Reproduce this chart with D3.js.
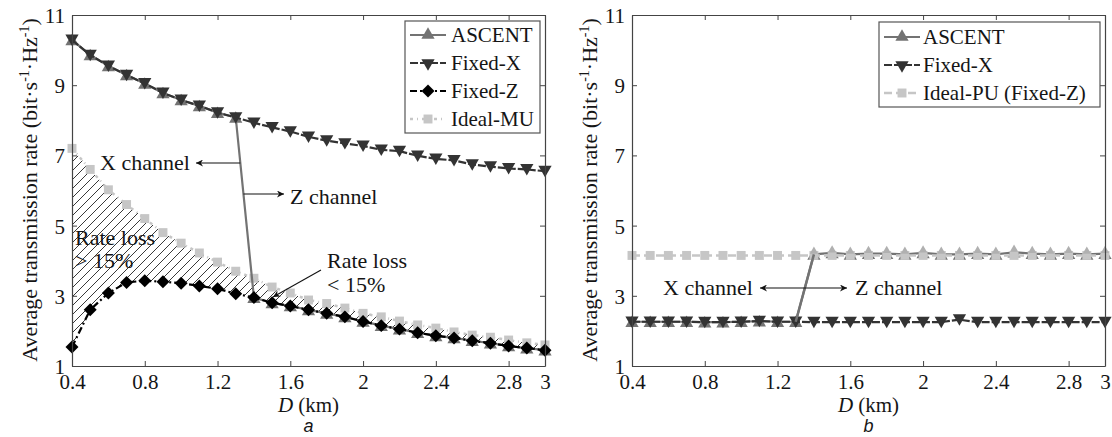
<!DOCTYPE html>
<html>
<head>
<meta charset="utf-8">
<script src="https://cdn.jsdelivr.net/npm/d3@7"></script>
<style>
  body { margin: 0; background: #fff; }
  text { font-family: "Liberation Serif", "Times New Roman", serif; fill: #151515; }
</style>
</head>
<body>
<div id="chart"></div>
<script>
// distances (km)
var D = [0.4, 0.5, 0.6, 0.7, 0.8, 0.9, 1.0, 1.1, 1.2, 1.3, 1.4, 1.5, 1.6, 1.7, 1.8,
         1.9, 2.0, 2.1, 2.2, 2.3, 2.4, 2.5, 2.6, 2.7, 2.8, 2.9, 3.0];

// panel a
var aFixedX  = [10.29, 9.86, 9.55, 9.29, 9.05, 8.78, 8.58, 8.41, 8.22, 8.08, 7.93, 7.80, 7.68, 7.53,
                7.42, 7.34, 7.27, 7.16, 7.12, 6.99, 6.90, 6.86, 6.74, 6.68, 6.63, 6.60, 6.55];
var aFixedZ  = [1.54, 2.60, 3.08, 3.38, 3.43, 3.40, 3.36, 3.28, 3.20, 3.06, 2.95, 2.80, 2.71, 2.60,
                2.50, 2.40, 2.27, 2.15, 2.05, 1.95, 1.86, 1.80, 1.72, 1.65, 1.57, 1.51, 1.45];
var aIdealMU = [7.20, 6.60, 6.02, 5.60, 5.20, 4.80, 4.50, 4.22, 3.96, 3.70, 3.50, 3.25, 3.08, 2.88,
                2.78, 2.65, 2.50, 2.40, 2.28, 2.17, 2.08, 1.97, 1.88, 1.82, 1.74, 1.66, 1.60];
var aAscent  = [10.29, 9.86, 9.55, 9.29, 9.05, 8.78, 8.58, 8.41, 8.22, 8.08, 2.95, 2.80, 2.71, 2.60,
                2.50, 2.40, 2.27, 2.15, 2.05, 1.95, 1.86, 1.80, 1.72, 1.65, 1.57, 1.51, 1.45];

// panel b
var bFixedX  = [2.26, 2.26, 2.26, 2.26, 2.25, 2.25, 2.26, 2.28, 2.26, 2.26, 2.25, 2.25, 2.25, 2.25,
                2.25, 2.25, 2.25, 2.25, 2.32, 2.25, 2.25, 2.25, 2.25, 2.25, 2.25, 2.25, 2.25];
var bIdealPU = [4.15, 4.15, 4.15, 4.15, 4.15, 4.15, 4.15, 4.15, 4.15, 4.15, 4.15, 4.15, 4.15, 4.15,
                4.15, 4.15, 4.15, 4.15, 4.15, 4.15, 4.15, 4.15, 4.15, 4.15, 4.15, 4.15, 4.15];
var bAscent  = [2.26, 2.26, 2.26, 2.26, 2.25, 2.25, 2.26, 2.28, 2.26, 2.26, 4.18, 4.22, 4.18, 4.20,
                4.20, 4.18, 4.22, 4.18, 4.18, 4.20, 4.18, 4.24, 4.20, 4.18, 4.20, 4.18, 4.20];

var xTicks = [0.4, 0.8, 1.2, 1.6, 2, 2.4, 2.8, 3];
var yTicks = [1, 3, 5, 7, 9, 11];

var W = 1112, H = 437;
var top_ = 15, bottom_ = 366, plotW = 473;

var svg = d3.select("#chart").append("svg")
    .attr("width", W).attr("height", H);

var defs = svg.append("defs");
// hatch
var pat = defs.append("pattern")
    .attr("id", "hatch")
    .attr("patternUnits", "userSpaceOnUse")
    .attr("width", 9).attr("height", 9);
pat.append("path")
    .attr("d", "M-2,2 L2,-2 M0,9 L9,0 M7,11 L11,7")
    .attr("stroke", "#222").attr("stroke-width", 0.9);
// arrow head
defs.append("marker")
    .attr("id", "arr")
    .attr("viewBox", "0 0 10 10")
    .attr("refX", 10).attr("refY", 5)
    .attr("markerWidth", 10).attr("markerHeight", 7)
    .attr("markerUnits", "userSpaceOnUse")
    .attr("orient", "auto")
    .append("path").attr("d", "M0,0 L10,5 L0,10 L3,5 Z").attr("fill", "#111");

var y = d3.scaleLinear().domain([1, 11]).range([bottom_, top_]);

var styles = {
    ascent: {color: "#737373", dash: null, sym: "tri", w: 2.2},
    fixedX: {color: "#333333", dash: "8,2", sym: "triDown", w: 2.2},
    fixedZ: {color: "#000000", dash: "7,3,2,3", sym: "diamond", w: 2.2},
    idealMU: {color: "#c6c6c6", dash: "3,4,1,4", sym: "square", w: 2.5},
    idealPU: {color: "#c6c6c6", dash: "8,4", sym: "square", w: 2.5}
};

function symbolPath(sym) {
    if (sym == "tri" || sym == "triDown") return d3.symbol().type(d3.symbolTriangle).size(76)();
    if (sym == "diamond") return d3.symbol().type(d3.symbolSquare).size(84)();
    return d3.symbol().type(d3.symbolSquare).size(80)();
}
function symbolRot(sym) {
    if (sym == "triDown") return " rotate(180)";
    if (sym == "diamond") return " rotate(45)";
    return "";
}

function drawSeries(g, x, vals, st) {
    var line = d3.line().x(function(d, i) { return x(D[i]); }).y(function(d) { return y(d); });
    g.append("path")
        .datum(vals)
        .attr("d", line)
        .attr("fill", "none")
        .attr("stroke", st.color)
        .attr("stroke-width", st.w)
        .attr("stroke-dasharray", st.dash);
    g.selectAll(null)
        .data(vals)
        .enter().append("path")
        .attr("d", symbolPath(st.sym))
        .attr("transform", function(d, i) { return "translate(" + x(D[i]) + "," + (y(d) + (st.sym == "tri" ? 1.5 : st.sym == "triDown" ? -1.5 : 0)) + ")" + symbolRot(st.sym); })
        .attr("fill", st.color);
}

function drawAxes(g, x, left) {
    var xAxis = d3.axisBottom(x).tickValues(xTicks).tickSize(-5).tickSizeOuter(0).tickPadding(8)
        .tickFormat(function(d) { return String(+d.toFixed(1)); });
    g.append("g").attr("transform", "translate(0," + bottom_ + ")").call(xAxis);
    g.append("g").attr("transform", "translate(0," + top_ + ")")
        .call(d3.axisTop(x).tickValues(xTicks).tickSize(-5).tickSizeOuter(0).tickFormat(""));
    var gy = g.append("g").attr("transform", "translate(" + left + ",0)")
        .call(d3.axisLeft(y).tickValues(yTicks).tickSize(-5).tickSizeOuter(0).tickPadding(7));
    g.append("g").attr("transform", "translate(" + (left + plotW) + ",0)")
        .call(d3.axisRight(y).tickValues(yTicks).tickSize(-5).tickSizeOuter(0).tickFormat(""));
    g.selectAll(".domain").attr("stroke", "#444").attr("stroke-width", 1.2);
    g.selectAll(".tick line").attr("stroke", "#444");
    g.selectAll(".tick text")
        .style("font-family", "Liberation Serif, serif")
        .style("font-size", "21px")
        .attr("fill", "#151515");
    gy.selectAll(".tick text").attr("dy", "0.36em");

    // y label
    var yl = g.append("text")
        .attr("transform", "translate(" + (left - 35) + "," + 190 + ") rotate(-90)")
        .attr("text-anchor", "middle")
        .style("font-size", "22px");
    yl.append("tspan").text("Average transmission rate (bit·s");
    yl.append("tspan").attr("dy", -8).style("font-size", "14px").text("-1");
    yl.append("tspan").attr("dy", 8).text("·Hz");
    yl.append("tspan").attr("dy", -8).style("font-size", "14px").text("-1");
    yl.append("tspan").attr("dy", 8).text(")");

    // x label
    var xl = g.append("text")
        .attr("x", left + plotW / 2).attr("y", 412)
        .attr("text-anchor", "middle")
        .style("font-size", "21px");
    xl.append("tspan").style("font-style", "italic").text("D");
    xl.append("tspan").text(" (km)");
}

function legend(g, x0, y0, w, h, items, textX) {
    g.append("rect")
        .attr("x", x0).attr("y", y0).attr("width", w).attr("height", h)
        .attr("fill", "#fff").attr("stroke", "#555").attr("stroke-width", 1.2);
    items.forEach(function(it) {
        var st = styles[it.key];
        g.append("line")
            .attr("x1", x0 + 5).attr("x2", x0 + 41)
            .attr("y1", it.y).attr("y2", it.y)
            .attr("stroke", st.color).attr("stroke-width", st.w)
            .attr("stroke-dasharray", st.dash);
        g.append("path")
            .attr("d", symbolPath(st.sym))
            .attr("transform", "translate(" + (x0 + 23) + "," + it.y + ")" + symbolRot(st.sym))
            .attr("fill", st.color);
        g.append("text")
            .attr("x", textX).attr("y", it.y + 7)
            .style("font-size", "21px")
            .text(it.label);
    });
}

function arrow(g, x1, y1, x2, y2) {
    g.append("line")
        .attr("x1", x1).attr("y1", y1).attr("x2", x2).attr("y2", y2)
        .attr("stroke", "#111").attr("stroke-width", 1.1)
        .attr("marker-end", "url(#arr)");
}

function note(g, x, yy, txt) {
    g.append("text").attr("x", x).attr("y", yy).style("font-size", "22px").text(txt);
}

// ---------- panel a ----------
var xa = d3.scaleLinear().domain([0.4, 3]).range([72, 72 + plotW]);
var ga = svg.append("g");

var area = d3.area()
    .x(function(d, i) { return xa(D[i]); })
    .y0(function(d, i) { return y(aFixedZ[i]); })
    .y1(function(d) { return y(d); });
ga.append("path").datum(aIdealMU).attr("d", area).attr("fill", "url(#hatch)");

drawSeries(ga, xa, aIdealMU, styles.idealMU);
drawSeries(ga, xa, aAscent, styles.ascent);
drawSeries(ga, xa, aFixedX, styles.fixedX);
drawSeries(ga, xa, aFixedZ, styles.fixedZ);
drawAxes(ga, xa, 72);

// switching point annotation a
var ax1 = xa(1.3), ay1 = y(aAscent[9]), ax2 = xa(1.4), ay2 = y(aAscent[10]);
function onJumpA(yy) { return ax1 + (ax2 - ax1) * (yy - ay1) / (ay2 - ay1); }
arrow(ga, onJumpA(163), 163, 196, 163);
arrow(ga, onJumpA(194), 194, 284, 194);
note(ga, 100, 170, "X channel");
note(ga, 290, 204, "Z channel");
note(ga, 327, 268, "Rate loss");
note(ga, 327, 292, "< 15%");
arrow(ga, 321, 270, 273, 297);
note(ga, 75, 245, "Rate loss");
note(ga, 75, 268, "> 15%");

legend(ga, 405, 21, 135, 112, [
    {key: "ascent", label: "ASCENT", y: 35},
    {key: "fixedX", label: "Fixed-X", y: 63},
    {key: "fixedZ", label: "Fixed-Z", y: 91},
    {key: "idealMU", label: "Ideal-MU", y: 119}
], 451);

ga.append("text").attr("x", 72 + plotW / 2).attr("y", 432).attr("text-anchor", "middle")
    .style("font-family", "Liberation Sans, Arial, sans-serif").style("font-style", "italic")
    .style("font-size", "18px").text("a");

// ---------- panel b ----------
var xb = d3.scaleLinear().domain([0.4, 3]).range([632, 632 + plotW]);
var gb = svg.append("g");

drawSeries(gb, xb, bAscent, styles.ascent);
drawSeries(gb, xb, bFixedX, styles.fixedX);
drawSeries(gb, xb, bIdealPU, styles.idealPU);
// ascent marks peeking over the ideal-PU squares
gb.selectAll(null)
    .data(bAscent.slice(10))
    .enter().append("path")
    .attr("d", d3.symbol().type(d3.symbolTriangle).size(30)())
    .attr("transform", function(d, i) { return "translate(" + xb(D[i + 10]) + "," + (y(d) - 3) + ")"; })
    .attr("fill", "#b0b0b0");
// jump line on top
gb.append("line")
    .attr("x1", xb(1.3)).attr("y1", y(bAscent[9]))
    .attr("x2", xb(1.4)).attr("y2", y(bAscent[10]))
    .attr("stroke", styles.ascent.color).attr("stroke-width", 2.5);
drawAxes(gb, xb, 632);

arrow(gb, 800, 288, 760, 288);
arrow(gb, 800, 288, 847, 288);
note(gb, 663, 295, "X channel");
note(gb, 855, 295, "Z channel");

legend(gb, 879, 22, 221, 85, [
    {key: "ascent", label: "ASCENT", y: 37},
    {key: "fixedX", label: "Fixed-X", y: 65},
    {key: "idealPU", label: "Ideal-PU (Fixed-Z)", y: 93}
], 923);

gb.append("text").attr("x", 632 + plotW / 2).attr("y", 432).attr("text-anchor", "middle")
    .style("font-family", "Liberation Sans, Arial, sans-serif").style("font-style", "italic")
    .style("font-size", "18px").text("b");
</script>
</body>
</html>
